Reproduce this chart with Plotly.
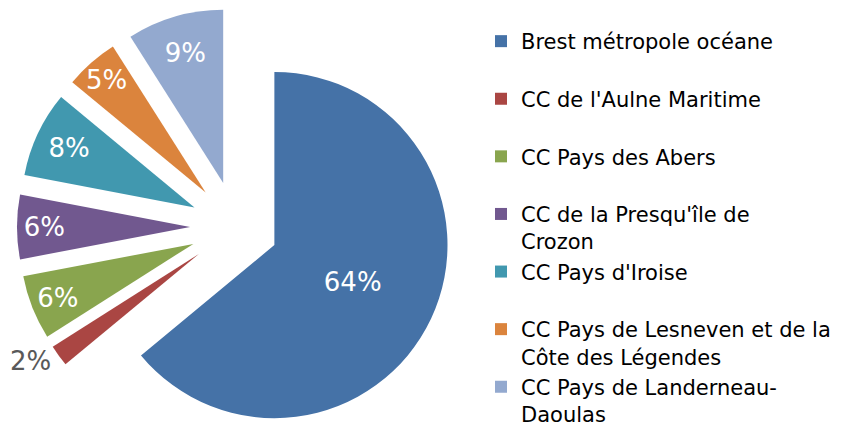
import plotly.graph_objects as go

categories = [
    "Brest métropole océane",
    "CC de l'Aulne Maritime",
    "CC Pays des Abers",
    "CC de la Presqu'île de<br>Crozon",
    "CC Pays d'Iroise",
    "CC Pays de Lesneven et de la<br>Côte des Légendes",
    "CC Pays de Landerneau-<br>Daoulas",
]
values = [64, 2, 6, 6, 8, 5, 9]
colors = ["#4572A7", "#AA4643", "#89A54E", "#71588F", "#4198AF", "#DB843D", "#93A9CF"]
text_positions = ["inside", "outside", "inside", "inside", "inside", "inside", "inside"]
pulls = [0.245, 0.265, 0.265, 0.265, 0.265, 0.265, 0.265]

# legend entries all occupy two lines (empty second line when needed)
legend_labels = [c if "<br>" in c else c + "<br>\u00a0" for c in categories]

FONT = "DejaVu Sans"
W, H = 843, 438

fig = go.Figure(
    go.Pie(
        labels=legend_labels,
        values=values,
        sort=False,
        direction="clockwise",
        rotation=0,
        pull=pulls,
        marker=dict(colors=colors, line=dict(width=0)),
        texttemplate="%{percent:.0%}",
        textposition=text_positions,
        insidetextorientation="horizontal",
        insidetextfont=dict(color="white", size=26, family=FONT),
        outsidetextfont=dict(color="#595959", size=26, family=FONT),
        domain=dict(x=[0, 456 / W], y=[0, 1]),
        hoverinfo="label+percent",
    )
)

fig.update_layout(
    width=W,
    height=H,
    margin=dict(l=0, r=0, t=0, b=0, autoexpand=False),
    paper_bgcolor="white",
    plot_bgcolor="white",
    font=dict(family=FONT, color="black"),
    uniformtext=dict(minsize=26, mode="show"),
    showlegend=True,
    legend=dict(
        x=473 / W,
        xanchor="left",
        y=1 - 13 / H,
        yanchor="top",
        font=dict(size=21, family=FONT, color="black"),
        valign="top",
        bgcolor="rgba(0,0,0,0)",
        traceorder="normal",
    ),
)

fig.write_html("out.html")
